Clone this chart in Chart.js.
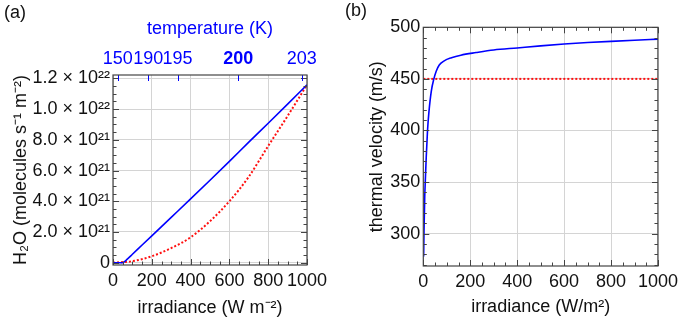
<!DOCTYPE html>
<html>
<head>
<meta charset="utf-8">
<script src="https://cdn.jsdelivr.net/npm/chart.js@4"></script>
<style>
  html, body { margin: 0; padding: 0; background: #fff; }
  #wrap { position: relative; width: 683px; height: 324px; overflow: hidden; font-family: "Liberation Sans", Arial, sans-serif; }
  .panel { position: absolute; top: 0; }
  #panelA { left: 0; }
  #panelB { left: 340px; }
  .tag { position: absolute; font-size: 18px; line-height: 20px; color: #111; }
</style>
</head>
<body>
<div id="wrap">
  <div class="panel" id="panelA"><canvas id="chartA" width="340" height="324"></canvas></div>
  <div class="panel" id="panelB"><canvas id="chartB" width="343" height="324"></canvas></div>
  <div class="tag" style="left:4px; top:2px;">(a)</div>
  <div class="tag" style="left:345px; top:0px;">(b)</div>
</div>
<script>
// Panel (a) data: H2O flux vs irradiance
const irrBlueA = [0, 50, 75, 100, 150, 200, 300, 400, 500, 600, 700, 800, 900, 1000];
const fluxBlueA = [0, 0, 0.25e21, 0.55e21, 1.15e21, 1.75e21, 2.95e21, 4.15e21, 5.37e21, 6.6e21, 7.85e21, 9.08e21, 10.32e21, 11.58e21];
const irrRedA = [0, 100, 200, 300, 400, 500, 600, 700, 800, 900, 1000];
const fluxRedA = [0, 0.1e21, 0.42e21, 0.95e21, 1.65e21, 2.7e21, 4.0e21, 5.6e21, 7.6e21, 9.55e21, 11.58e21];

// Panel (a) axes
const xTicksA = [0, 200, 400, 600, 800, 1000];
const yTicksA = [0, 2e21, 4e21, 6e21, 8e21, 1e22, 1.2e22];
const yTickLabelsA = ['0', '2.0 × 10²¹', '4.0 × 10²¹', '6.0 × 10²¹', '8.0 × 10²¹', '1.0 × 10²²', '1.2 × 10²²'];
// temperature ticks on the top axis, placed at the irradiance where they occur
const tempTickIrr = [24, 182, 333, 646, 973];
const tempTickLabels = ['150', '190', '195', '200', '203'];

// Panel (b) data: thermal velocity vs irradiance
const irrB = [1.5, 3, 6, 8.5, 12.5, 18, 24, 34, 45, 55, 68, 89, 120, 160, 225, 300, 400, 500, 600, 700, 800, 900, 1000];
const velB = [278, 302, 335, 351, 374, 400, 418, 438, 450, 457.5, 463.5, 467.5, 470.5, 473, 475.5, 478, 480, 482, 483.8, 485.2, 486.4, 487.5, 488.5];
const irrRefB = [0, 1000];
const velRefB = [450, 450];

const xTicksB = [0, 200, 400, 600, 800, 1000];
const yTicksB = [300, 350, 400, 450, 500];

// Colours
const blue = '#0000ff';
const red = '#ff1010';
const gridColor = '#d4d4d4';
const frameColor = '#444';
const textColor = '#111';
const fontFamily = '"Liberation Sans", Arial, sans-serif';

// Frame with inward major / minor ticks, Mathematica style
const frameTicks = {
    id: 'frameTicks',
    afterDatasetsDraw(chart, args, opts) {
        const { ctx, chartArea: a, scales } = chart;
        ctx.save();
        ctx.lineWidth = 1;

        const line = (x1, y1, x2, y2, color) => {
            ctx.strokeStyle = color;
            ctx.beginPath();
            ctx.moveTo(x1, y1);
            ctx.lineTo(x2, y2);
            ctx.stroke();
        };

        // bottom (and mirrored top) ticks
        const xs = scales.x;
        for (let v = xs.min; v <= xs.max + 1e-9; v += opts.xMinor) {
            const px = Math.round(xs.getPixelForValue(v)) + 0.5;
            const major = Math.abs(v / opts.xMajor - Math.round(v / opts.xMajor)) < 1e-6;
            const len = major ? 6 : 3.5;
            line(px, a.bottom, px, a.bottom - len, frameColor);
            if (opts.mirrorTop) line(px, a.top, px, a.top + len, frameColor);
        }

        // left (and mirrored right) ticks
        const ys = scales.y;
        const start = Math.ceil(ys.min / opts.yMinor) * opts.yMinor;
        for (let v = start; v <= ys.max + opts.yMinor * 1e-6; v += opts.yMinor) {
            const py = Math.round(ys.getPixelForValue(v)) + 0.5;
            const major = Math.abs(v / opts.yMajor - Math.round(v / opts.yMajor)) < 1e-6;
            const len = major ? 6 : 3.5;
            line(a.left, py, a.left + len, py, frameColor);
            line(a.right, py, a.right - len, py, frameColor);
        }

        // top temperature ticks
        if (scales.xTop) {
            scales.xTop.ticks.forEach(t => {
                const px = Math.round(scales.xTop.getPixelForValue(t.value)) + 0.5;
                line(px, a.top, px, a.top + 6, blue);
            });
        }

        ctx.strokeStyle = frameColor;
        ctx.lineWidth = 1.2;
        ctx.strokeRect(a.left, a.top, a.right - a.left, a.bottom - a.top);
        ctx.restore();
    }
};

const tickFont = { family: fontFamily, size: 18 };
const titleFont = { family: fontFamily, size: 18 };

function toPoints(xs, ys) {
    return xs.map((x, i) => ({ x: x, y: ys[i] }));
}

// Panel (a)
new Chart(document.getElementById('chartA'), {
    type: 'line',
    data: {
        datasets: [
            {
                data: toPoints(irrBlueA, fluxBlueA),
                borderColor: blue,
                borderWidth: 1.6,
                pointRadius: 0,
                cubicInterpolationMode: 'monotone'
            },
            {
                data: toPoints(irrRedA, fluxRedA),
                borderColor: red,
                borderWidth: 2,
                borderDash: [2, 2],
                pointRadius: 0,
                cubicInterpolationMode: 'monotone'
            }
        ]
    },
    options: {
        responsive: false,
        animation: false,
        layout: { padding: { left: 0, right: 33, top: 0, bottom: 0 } },
        plugins: {
            legend: { display: false },
            tooltip: { enabled: false },
            frameTicks: { xMajor: 200, xMinor: 50, yMajor: 2e21, yMinor: 5e20, mirrorTop: false }
        },
        scales: {
            x: {
                type: 'linear',
                position: 'bottom',
                min: 0,
                max: 1000,
                afterBuildTicks: s => { s.ticks = xTicksA.map(v => ({ value: v })); },
                afterFit: s => { s.height = 59; },
                grid: { color: gridColor, drawTicks: false },
                border: { display: false },
                ticks: { font: tickFont, color: textColor, padding: 5, maxRotation: 0, autoSkip: false, callback: v => String(v) },
                title: { display: true, text: 'irradiance (W m⁻²)', font: titleFont, color: textColor, padding: { bottom: 5 } }
            },
            xTop: {
                type: 'linear',
                axis: 'x',
                position: 'top',
                min: 0,
                max: 1000,
                afterBuildTicks: s => { s.ticks = tempTickIrr.map(v => ({ value: v })); },
                afterFit: s => { s.height = 75; },
                grid: { display: false, drawTicks: false },
                border: { display: false },
                ticks: {
                    color: blue,
                    padding: 5,
                    maxRotation: 0,
                    autoSkip: false,
                    font: c => ({ family: fontFamily, size: 18, weight: tempTickLabels[c.index] === '200' ? 'bold' : 'normal' }),
                    callback: (v, i) => tempTickLabels[i]
                },
                title: { display: true, text: 'temperature (K)', font: titleFont, color: blue, padding: { top: 18 } }
            },
            y: {
                type: 'linear',
                min: -1.5e20,
                max: 1.222e22,
                afterBuildTicks: s => { s.ticks = yTicksA.map(v => ({ value: v })); },
                afterFit: s => { s.width = 113; },
                grid: { color: gridColor, drawTicks: false },
                border: { display: false },
                ticks: { font: tickFont, color: textColor, padding: 3, autoSkip: false, callback: (v, i) => yTickLabelsA[i] },
                title: { display: true, text: 'H₂O (molecules s⁻¹ m⁻²)', font: titleFont, color: textColor, padding: { top: 10 } }
            }
        }
    },
    plugins: [frameTicks]
});

// Panel (b)
new Chart(document.getElementById('chartB'), {
    type: 'line',
    data: {
        datasets: [
            {
                data: toPoints(irrB, velB),
                borderColor: blue,
                borderWidth: 1.6,
                pointRadius: 0,
                cubicInterpolationMode: 'monotone'
            },
            {
                data: toPoints(irrRefB, velRefB),
                borderColor: red,
                borderWidth: 2,
                borderDash: [2, 2],
                pointRadius: 0
            }
        ]
    },
    options: {
        responsive: false,
        animation: false,
        layout: { padding: { left: 0, right: 20.3, top: 27.3, bottom: 0 } },
        plugins: {
            legend: { display: false },
            tooltip: { enabled: false },
            frameTicks: { xMajor: 200, xMinor: 50, yMajor: 50, yMinor: 10, mirrorTop: true }
        },
        scales: {
            x: {
                type: 'linear',
                min: 0,
                max: 1000,
                afterBuildTicks: s => { s.ticks = xTicksB.map(v => ({ value: v })); },
                afterFit: s => { s.height = 58; },
                grid: { color: gridColor, drawTicks: false },
                border: { display: false },
                ticks: { font: tickFont, color: textColor, padding: 5, maxRotation: 0, autoSkip: false, callback: v => String(v) },
                title: { display: true, text: 'irradiance (W/m²)', font: titleFont, color: textColor, padding: { bottom: 6 } }
            },
            y: {
                type: 'linear',
                min: 268.7,
                max: 500,
                afterBuildTicks: s => { s.ticks = yTicksB.map(v => ({ value: v })); },
                afterFit: s => { s.width = 83.3; },
                grid: { color: gridColor, drawTicks: false },
                border: { display: false },
                ticks: { font: tickFont, color: textColor, padding: 3, autoSkip: false },
                title: { display: true, text: 'thermal velocity (m/s)', font: titleFont, color: textColor, padding: { top: 26 } }
            }
        }
    },
    plugins: [frameTicks]
});
</script>
</body>
</html>
